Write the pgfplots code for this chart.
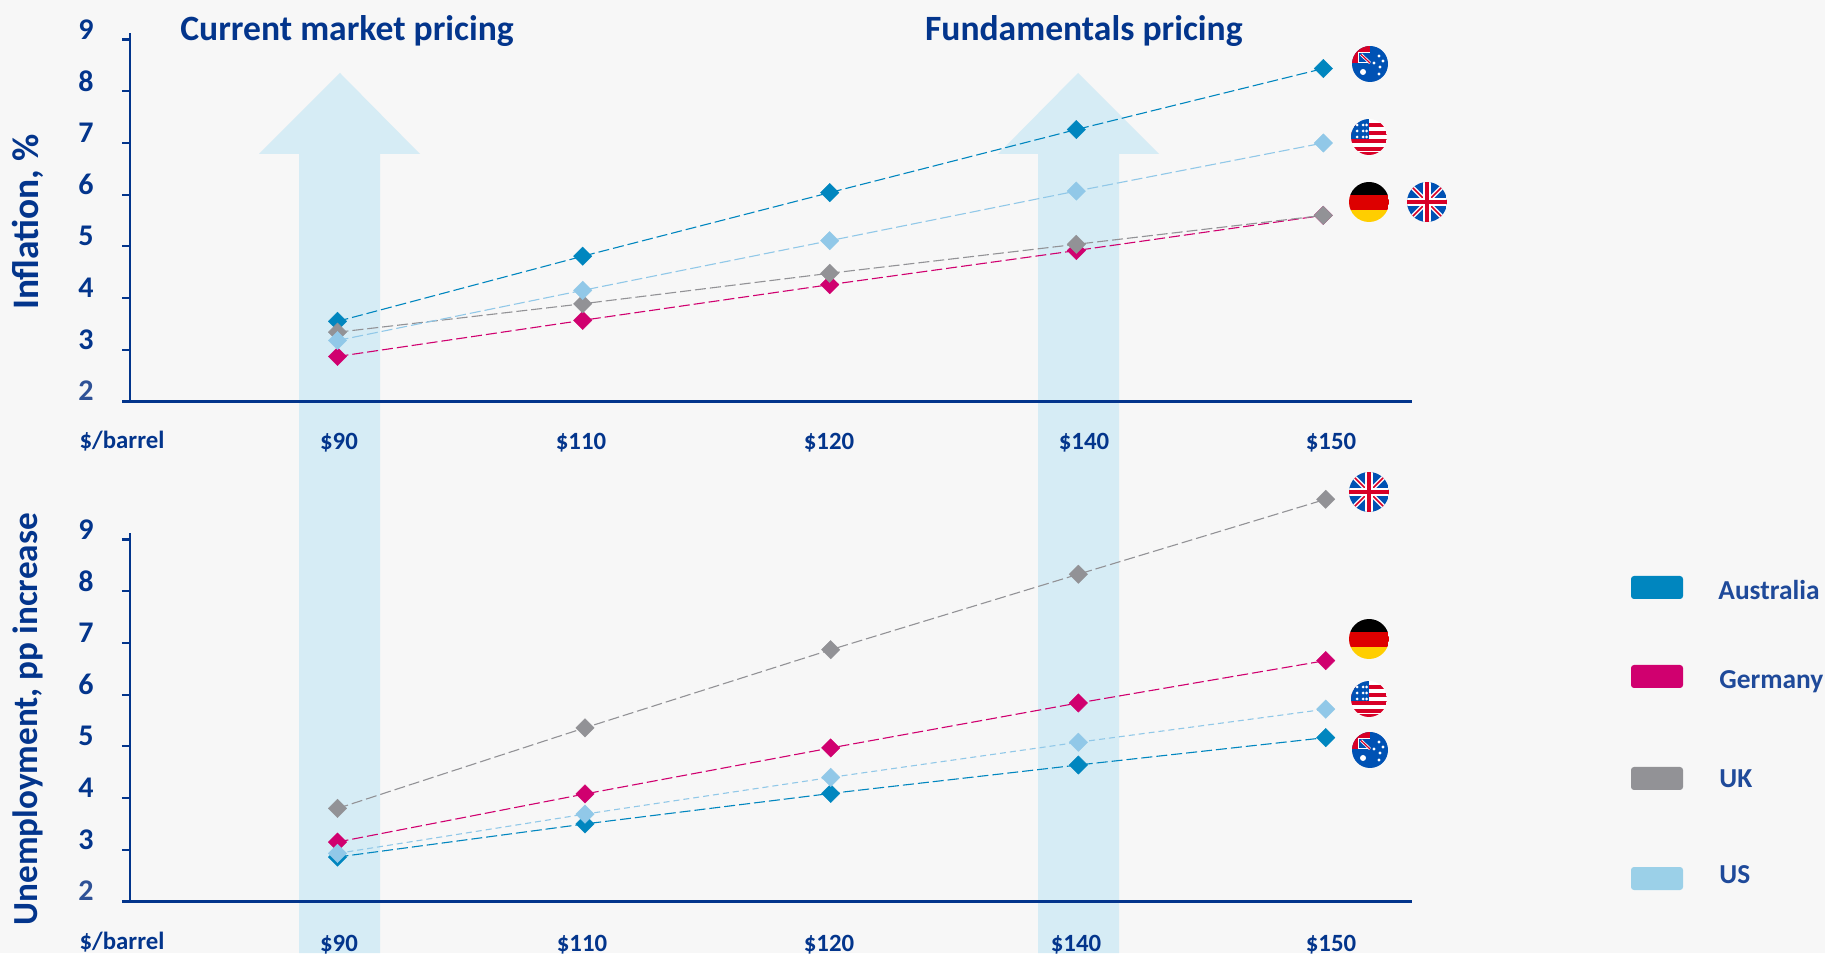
\documentclass[border=0pt]{standalone}
\usepackage{pgfplots}
\pgfplotsset{compat=1.18}
\usepackage{fontspec}
\setmainfont{Carlito}
\definecolor{bg}{HTML}{F7F7F7}
\definecolor{ink}{HTML}{03358C}
\definecolor{ink2}{HTML}{1F4A9A}
\definecolor{ink3}{HTML}{2E5196}
\definecolor{arrow}{HTML}{D6ECF5}
\definecolor{au}{HTML}{0086BF}
\definecolor{de}{HTML}{D0006F}
\definecolor{uk}{HTML}{929296}
\definecolor{us}{HTML}{91C8E8}
\definecolor{usleg}{HTML}{9BD0E8}
\definecolor{fblue}{HTML}{0052B4}
\definecolor{fred}{HTML}{D80027}
\definecolor{fgold}{HTML}{FFCE00}
\definecolor{fdred}{HTML}{DD0000}
\pgfplotstableread{
x au de uk us
337.5 3.55 2.87 3.34 3.18
582.7 4.81 3.57 3.89 4.15
829.7 6.04 4.26 4.48 5.11
1076.3 7.26 4.92 5.04 6.07
1323.3 8.44 5.60 5.60 7.00
}\inflation
\pgfplotstableread{
x au de uk us
337.5 2.86 3.15 3.80 2.93
585.0 3.50 4.08 5.36 3.69
830.7 4.09 4.97 6.87 4.40
1078.3 4.64 5.84 8.33 5.08
1325.7 5.17 6.66 9.78 5.72
}\unemployment
\pgfplotsset{
  chartaxis/.style={
    scale only axis, width=641pt, height=184pt,
    xmin=130, xmax=1412, ymin=2, ymax=9.118,
    axis x line=bottom, axis y line=left,
    axis line style={-,draw=ink,line width=1.1pt},
    clip=false,
    ytick={2,3,4,5,6,7,8,9},
    yticklabels={\textcolor{ink3}{2},3,4,5,6,7,8,9},
    ytick style={draw=ink,line width=1.1pt},
    tick align=outside,
    major tick length=4pt,
    xtick style={draw=none},
    xticklabel style={font=\fontsize{12.4}{14}\selectfont\bfseries,text=ink,inner sep=0pt},
    yticklabel style={font=\fontsize{15}{16}\selectfont\bfseries,text=ink,anchor=center,xshift=-18pt,yshift=5.2pt},
    ylabel style={text=ink,anchor=center},
  },
  ser/.style={color=#1,line width=.55pt,dash pattern=on 5.5pt off 2pt,
    mark=square*,mark size=3.25pt,
    mark options={solid,rotate=45,draw=#1,fill=#1,line width=.2pt}},
  sershort/.style={color=#1,line width=.55pt,dash pattern=on 3pt off 2pt,
    mark=square*,mark size=3.25pt,
    mark options={solid,rotate=45,draw=#1,fill=#1,line width=.2pt}},
}
% flags are drawn in pixel coordinates about their centre
\newcommand{\flagDE}[2]{\begin{scope}[shift={(#1,#2)}]
  \clip (0,0) circle (20);
  \fill[black] (-20,-20) rectangle (20,-6.5);
  \fill[fdred] (-20,-6.5) rectangle (20,8);
  \fill[fgold] (-20,8) rectangle (20,20);
\end{scope}}
\newcommand{\flagUK}[2]{\begin{scope}[shift={(#1,#2)}]
  \clip (0,0) circle (20);
  \fill[fblue] (-20,-20) rectangle (20,20);
  \draw[white,line width=2.2pt] (-20,-20) -- (20,20) (-20,20) -- (20,-20);
  \draw[fred,line width=.8pt] (-20,-20) -- (20,20) (-20,20) -- (20,-20);
  \draw[white,line width=4pt] (-20,0) -- (20,0) (0,-20) -- (0,20);
  \draw[fred,line width=2.4pt] (-20,0) -- (20,0) (0,-20) -- (0,20);
\end{scope}}
\newcommand{\flagUS}[2]{\begin{scope}[shift={(#1,#2)}]
  \clip (0,0) circle (18);
  \fill[white] (-18,-18) rectangle (18,18);
  \foreach \s in {-14,-6,2,10}{\fill[fred] (-18,\s) rectangle (18,\s+4);}
  \fill[fred] (-18,15) rectangle (18,18);
  \fill[fblue] (-18,-18) rectangle (0,2);
  \foreach \a in {-12,-6}{\foreach \b in {-12,-6,0}{\fill[white] (\a,\b) circle (1.5);}}
  \foreach \b in {-12,-6,0}{\fill[white] (-2.5,\b) circle (1.5);}
\end{scope}}
\newcommand{\flagAU}[2]{\begin{scope}[shift={(#1,#2)}]
  \clip (0,0) circle (18);
  \fill[fblue] (-18,-18) rectangle (18,18);
  \fill[fred] (-18,-18) rectangle (0,-1);
  \fill[white] (-12,-12) rectangle (0,-1);
  \fill[fblue] (-11,-11) rectangle (0,-2);
  \draw[white,line width=1.4pt] (-9,-9.5) -- (0,-1);
  \draw[fred,line width=.6pt] (-9,-9.5) -- (0,-1);
  \fill[white] (-7,8) circle (3);
  \foreach \p in {(9,-8),(4,-1),(13,-3),(10,3),(9,10)}{\fill[white] \p circle (1.7);}
\end{scope}}
\begin{document}
\begin{tikzpicture}
\path[use as bounding box] (0,0) rectangle (912.5pt,476.5pt);
\begin{scope}[x=.5pt,y=-.5pt,shift={(0pt,476.5pt)}]
  \fill[bg] (0,0) rectangle (1825,953);
  \fill[arrow] (299,953) -- (299,154) -- (259,154) -- (340,73) -- (420,154) -- (380,154) -- (380,953) -- cycle;
  \fill[arrow] (1038,953) -- (1038,154) -- (998,154) -- (1078,73) -- (1159,154) -- (1119,154) -- (1119,953) -- cycle;
\end{scope}

\begin{axis}[chartaxis, at={(65pt,275.75pt)}, anchor=south west,
  xtick={339,581,829,1084,1331},
  xticklabels={\$90,\$110,\$120,\$140,\$150},
  xticklabel style={anchor=center,yshift=-16.8pt},
  ylabel={Inflation, \%},
  ylabel style={font=\fontsize{18.7}{19}\selectfont\bfseries,at={(axis description cs:-0.0800,0.488)}},
]
\addplot[ser=au] table[x=x,y=au] {\inflation};
\addplot[ser=de] table[x=x,y=de] {\inflation};
\addplot[ser=uk] table[x=x,y=uk] {\inflation};
\addplot[ser=us] table[x=x,y=us] {\inflation};
\node[font=\fontsize{12.4}{14}\selectfont\bfseries,text=ink,anchor=center,inner sep=0pt] at (axis cs:122,1.23) {\$/barrel};
\end{axis}

\begin{axis}[chartaxis, at={(65pt,25.75pt)}, anchor=south west,
  xtick={339,582,829,1076,1331},
  xticklabels={\$90,\$110,\$120,\$140,\$150},
  xticklabel style={anchor=center,yshift=-17.4pt},
  ylabel={Unemployment, pp increase},
  ylabel style={font=\fontsize{17.6}{18}\selectfont\bfseries,at={(axis description cs:-0.0796,0.495)}},
]
\addplot[ser=au] table[x=x,y=au] {\unemployment};
\addplot[ser=de] table[x=x,y=de] {\unemployment};
\addplot[ser=uk] table[x=x,y=uk] {\unemployment};
\addplot[sershort=us] table[x=x,y=us] {\unemployment};
\node[font=\fontsize{12.4}{14}\selectfont\bfseries,text=ink,anchor=center,inner sep=0pt] at (axis cs:122,1.22) {\$/barrel};
\end{axis}

\begin{scope}[x=.5pt,y=-.5pt,shift={(0pt,476.5pt)}]
  \node[font=\fontsize{17.8}{18}\selectfont\bfseries,text=ink,anchor=base west,inner sep=0pt] at (180,41) {Current market pricing};
  \node[font=\fontsize{17.8}{18}\selectfont\bfseries,text=ink,anchor=base east,inner sep=0pt] at (1243,41) {Fundamentals pricing};
  \flagAU{1370}{64}
  \flagUS{1369}{137}
  \flagDE{1369}{202}
  \flagUK{1427}{202}
  \flagUK{1369}{492}
  \flagDE{1369}{639}
  \flagUS{1369}{699}
  \flagAU{1370}{750}
  \fill[au,rounded corners=1.5pt] (1631,576) rectangle (1683,599);
  \fill[de,rounded corners=1.5pt] (1631,665) rectangle (1683,688);
  \fill[uk,rounded corners=1.5pt] (1631,767) rectangle (1683,790);
  \fill[usleg,rounded corners=1.5pt] (1631,867) rectangle (1683,890);
  \tikzset{lg/.style={font=\fontsize{13.7}{15}\selectfont\bfseries,text=ink2,anchor=base west,inner sep=0pt}}
  \node[lg] at (1718,600) {Australia};
  \node[lg] at (1719,689) {Germany};
  \node[lg] at (1719,788) {UK};
  \node[lg] at (1719,884) {US};
\end{scope}
\end{tikzpicture}
\end{document}
